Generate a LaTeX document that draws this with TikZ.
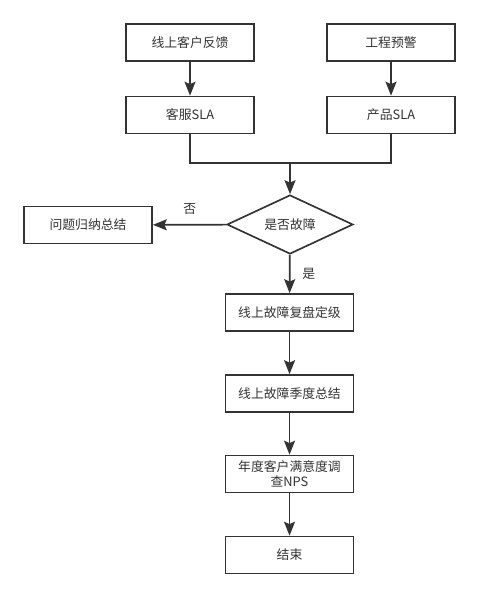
\documentclass[tikz,border=0pt]{standalone}
\usepackage{fontspec}
\newfontfamily\cjk{Noto Sans CJK SC}
\usetikzlibrary{arrows.meta}
\usetikzlibrary{shapes.geometric}
\tikzset{>={Stealth[length=2.8mm,width=2.2mm,inset=0.5mm]}}
\definecolor{flowgray}{RGB}{51,51,51}
\tikzstyle{stepbox}=[draw=flowgray,line width=0.95pt,minimum width=2.56cm,minimum height=0.74cm,inner sep=0pt,text=flowgray,font=\cjk\fontsize{7.3}{8.6}\selectfont,align=center]
\tikzstyle{choice}=[draw=flowgray,line width=0.95pt,diamond,aspect=2.1,minimum width=2.52cm,minimum height=1.18cm,inner sep=0pt,text=flowgray,font=\cjk\fontsize{7.3}{8.6}\selectfont]
\tikzstyle{flowline}=[draw=flowgray,line width=0.95pt]
\tikzstyle{flowlabel}=[text=flowgray,font=\cjk\fontsize{7.3}{8.6}\selectfont]

\begin{document}
\begin{tikzpicture}
  \useasboundingbox (0,0) rectangle (9.6,-11.96);
  \node[stepbox] (feedback) at (3.8,-0.85) {线上客户反馈};
  \node[stepbox] (warning) at (7.82,-0.85) {工程预警};
  \node[stepbox] (servicesla) at (3.8,-2.3) {客服SLA};
  \node[stepbox] (productsla) at (7.82,-2.3) {产品SLA};
  \coordinate (merge) at (5.8,-3.26);
  \node[choice] (isfault) at (5.8,-4.49) {是否故障};
  \node[stepbox] (summary) at (1.76,-4.5) {问题归纳总结};
  \node[stepbox] (review) at (5.79,-6.25) {线上故障复盘定级};
  \node[stepbox] (quarter) at (5.79,-7.87) {线上故障季度总结};
  \node[stepbox] (nps) at (5.79,-9.48) {年度客户满意度调\\查NPS};
  \node[stepbox] (finish) at (5.79,-11.1) {结束};

  \draw[flowline,->] (feedback) -- (servicesla);
  \draw[flowline,->] (warning) -- (productsla);
  \draw[flowline] (servicesla) |- (merge);
  \draw[flowline] (productsla) |- (merge);
  \draw[flowline,->] (merge) -- (isfault);
  \draw[flowline,->] (isfault) -- node[flowlabel,above,yshift=0.08cm] {否} (summary);
  \draw[flowline,->] (isfault) -- node[flowlabel,right,xshift=0.12cm] {是} (review);
  \draw[flowline,->] (review) -- (quarter);
  \draw[flowline,->] (quarter) -- (nps);
  \draw[flowline,->] (nps) -- (finish);
\end{tikzpicture}
\end{document}
